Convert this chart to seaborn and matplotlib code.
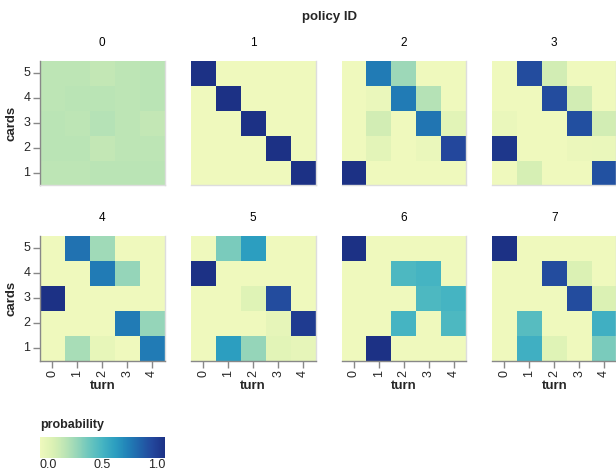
import numpy as np
import pandas as pd
import matplotlib
matplotlib.use("Agg")
import matplotlib.pyplot as plt
import seaborn as sns
from matplotlib.colors import LinearSegmentedColormap

sns.set_style("white")
plt.rcParams['font.family'] = ['Liberation Sans', 'DejaVu Sans']

turns = [0, 1, 2, 3, 4]
cards = [5, 4, 3, 2, 1]  # top to bottom
policy_ids = [0, 1, 2, 3, 4, 5, 6, 7]

# rows = cards 5..1, columns = turn 0..4
policy_0 = [[0.20, 0.20, 0.18, 0.20, 0.21],
            [0.20, 0.21, 0.21, 0.20, 0.21],
            [0.21, 0.20, 0.22, 0.20, 0.18],
            [0.21, 0.21, 0.18, 0.20, 0.20],
            [0.20, 0.20, 0.21, 0.21, 0.21]]
policy_1 = [[1.00, 0.00, 0.00, 0.00, 0.00],
            [0.00, 1.00, 0.00, 0.00, 0.00],
            [0.00, 0.00, 1.00, 0.00, 0.00],
            [0.00, 0.00, 0.00, 1.00, 0.00],
            [0.00, 0.00, 0.00, 0.00, 1.00]]
policy_2 = [[0.00, 0.72, 0.28, 0.00, 0.00],
            [0.00, 0.03, 0.72, 0.22, 0.00],
            [0.00, 0.13, 0.00, 0.74, 0.07],
            [0.00, 0.06, 0.00, 0.03, 0.90],
            [1.00, 0.00, 0.00, 0.00, 0.00]]
policy_3 = [[0.00, 0.88, 0.13, 0.00, 0.00],
            [0.00, 0.00, 0.88, 0.13, 0.00],
            [0.03, 0.00, 0.00, 0.87, 0.13],
            [0.97, 0.00, 0.00, 0.02, 0.03],
            [0.00, 0.12, 0.00, 0.00, 0.86]]
policy_4 = [[0.00, 0.75, 0.27, 0.00, 0.00],
            [0.00, 0.00, 0.72, 0.30, 0.00],
            [1.00, 0.00, 0.00, 0.00, 0.00],
            [0.00, 0.00, 0.00, 0.72, 0.30],
            [0.00, 0.25, 0.04, 0.00, 0.72]]
policy_5 = [[0.00, 0.36, 0.60, 0.00, 0.00],
            [1.00, 0.00, 0.00, 0.00, 0.00],
            [0.00, 0.00, 0.08, 0.88, 0.00],
            [0.00, 0.00, 0.00, 0.05, 0.95],
            [0.00, 0.60, 0.30, 0.07, 0.05]]
policy_6 = [[1.00, 0.00, 0.00, 0.00, 0.00],
            [0.00, 0.00, 0.48, 0.50, 0.00],
            [0.00, 0.00, 0.00, 0.48, 0.50],
            [0.00, 0.00, 0.50, 0.00, 0.48],
            [0.00, 1.00, 0.00, 0.00, 0.00]]
policy_7 = [[1.00, 0.00, 0.00, 0.00, 0.00],
            [0.00, 0.00, 0.88, 0.10, 0.00],
            [0.00, 0.00, 0.00, 0.88, 0.10],
            [0.00, 0.45, 0.00, 0.00, 0.52],
            [0.00, 0.52, 0.08, 0.00, 0.36]]
policies = [policy_0, policy_1, policy_2, policy_3,
            policy_4, policy_5, policy_6, policy_7]

ygb = ["#eff9bd", "#dbf1b4", "#bde5b5", "#94d5b9", "#69c5be", "#45b4c2",
       "#2c9ec0", "#2182b8", "#2163aa", "#23479c", "#1c3185"]
cmap = LinearSegmentedColormap.from_list("yellowgreenblue", ygb)

W, H = 616, 473
fig = plt.figure(figsize=(W / 100, H / 100), dpi=100)

def px_axes(x0, y0, x1, y1):
    return fig.add_axes([x0 / W, 1 - y1 / H, (x1 - x0) / W, (y1 - y0) / H])

lefts = [40, 191, 341.5, 492]
tops = [61, 236]
size = 124.5

for i, pid in enumerate(policy_ids):
    r, c = divmod(i, 4)
    ax = px_axes(lefts[c], tops[r], lefts[c] + size, tops[r] + size)
    df = pd.DataFrame(policies[i], index=cards, columns=turns)
    sns.heatmap(df, ax=ax, cmap=cmap, vmin=0, vmax=1, cbar=False,
                square=False, linewidths=0)
    ax.set_title(str(pid), fontsize=8.5, color="#000", pad=11)
    for side in ["top", "left", "right", "bottom"]:
        ax.spines[side].set_visible(True)
        ax.spines[side].set_color("#dddddd")
        ax.spines[side].set_linewidth(1)
    ax.spines["top"].set_visible(False)
    ax.spines["left"].set_visible(False)
    if c == 0:
        ax.spines["left"].set_visible(True)
        ax.spines["left"].set_color("#888888")
        ax.set_yticks(np.arange(5) + 0.5)
        ax.set_yticklabels([str(v) for v in cards], rotation=0, fontsize=9)
        ax.tick_params(axis="y", length=5, width=1, color="#888888", pad=2, left=True)
        ax.set_ylabel("cards", fontsize=9.5, fontweight="bold", labelpad=4)
    else:
        ax.set_yticks([])
        ax.set_ylabel("")
    if r == 1:
        ax.spines["bottom"].set_color("#888888")
        ax.set_xticks(np.arange(5) + 0.5)
        ax.set_xticklabels([str(v) for v in turns], rotation=90, fontsize=9)
        ax.tick_params(axis="x", length=5, width=1, color="#888888", pad=2, bottom=True)
        ax.set_xlabel("turn", fontsize=9.5, fontweight="bold", labelpad=2)
    else:
        ax.set_xticks([])
        ax.set_xlabel("")

fig.text(330 / W, 1 - 17 / H, "policy ID", ha="center", va="center",
         fontsize=9.5, fontweight="bold")

# gradient legend
cax = px_axes(40, 437, 165, 458)
sm = plt.cm.ScalarMappable(cmap=cmap, norm=plt.Normalize(0, 1))
cb = fig.colorbar(sm, cax=cax, orientation="horizontal", ticks=[0, 0.5, 1])
cb.outline.set_visible(False)
cb.ax.set_xticklabels(["0.0", "0.5", "1.0"], fontsize=9)
cb.ax.tick_params(length=0, pad=1)
labels = cb.ax.get_xticklabels()
labels[0].set_ha("left")
labels[2].set_ha("right")
fig.text(40 / W, 1 - 425 / H, "probability", ha="left", va="center",
         fontsize=9, fontweight="bold")

fig.savefig("out.png", dpi=100)
